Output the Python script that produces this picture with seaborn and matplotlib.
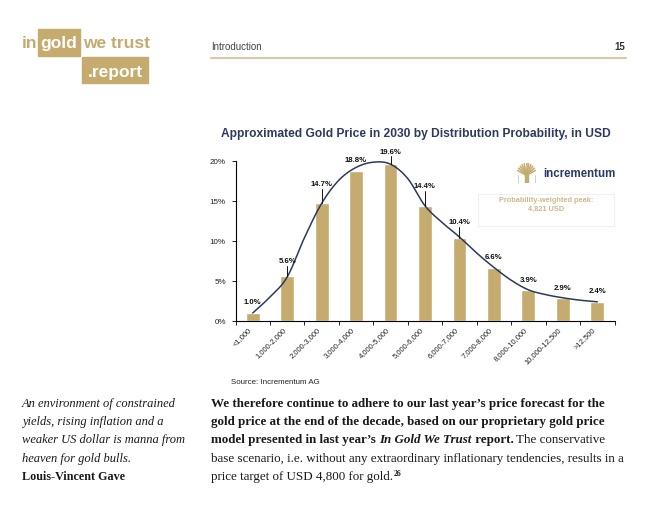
import numpy as np
import pandas as pd
import seaborn as sns
import matplotlib.pyplot as plt
from matplotlib.patches import Rectangle

# data
categories = ["<1,000", "1,000-2,000", "2,000-3,000", "3,000-4,000", "4,000-5,000",
              "5,000-6,000", "6,000-7,000", "7,000-8,000", "8,000-10,000",
              "10,000-12,500", ">12,500"]
probabilities = [1.0, 5.6, 14.7, 18.8, 19.6, 14.4, 10.4, 6.6, 3.9, 2.9, 2.4]
# points (category position, %)
curve_pos = [0, 0.5, 1, 1.5, 2, 2.5, 3, 3.5, 4, 4.5, 5, 5.5, 6, 6.5, 7, 7.5, 8, 8.5, 9, 9.5, 10]
curve_vals = [1.0, 3.0, 5.5, 10.4, 14.7, 17.6, 19.2, 19.85, 19.6, 17.8, 14.4, 12.3,
              10.5, 8.5, 6.7, 5.1, 3.9, 3.3, 2.9, 2.6, 2.4]
y_ticks = [0, 5, 10, 15, 20]

# layout only
label_offsets = [1.25, 1.8, 2.3, 1.2, 1.5, 2.35, 1.85, 1.3, 1.2, 1.2, 1.3]
leader_idx = [1, 2, 4, 5, 6]

GOLD = "#C5AB6E"
NAVY = "#2C3A5E"
SANS = ["Liberation Sans", "DejaVu Sans"]
SERIF = ["Liberation Serif", "DejaVu Serif"]

sns.set_theme(style="white")
plt.rcParams["font.family"] = SANS

W, H = 646, 514
fig = plt.figure(figsize=(W / 100, H / 100), dpi=100)
renderer = fig.canvas.get_renderer()


def fx(px):
    return px / W


def fy(py):
    return 1 - py / H


def text_width(s, **kw):
    t = fig.text(0, 0, s + "|", **kw)
    w1 = t.get_window_extent(renderer).width
    t.remove()
    t = fig.text(0, 0, "|", **kw)
    w2 = t.get_window_extent(renderer).width
    t.remove()
    return w1 - w2


def fit_size(s, target, **kw):
    return 10 * target / text_width(s, fontsize=10, **kw)


def draw_runs(x, base, runs):
    for s, style, size in runs:
        fig.text(fx(x), fy(base), s, fontsize=size, va="baseline", ha="left",
                 color="#1A1A1A", **style)
        x += text_width(s, fontsize=size, **style)
    return x


def smooth(xs, ys, n=24):
    # cardinal spline through the read points, like a smoothed office line
    xs = np.asarray(xs, float)
    ys = np.asarray(ys, float)
    m = np.gradient(ys, xs)
    out_x, out_y = [], []
    for i in range(len(xs) - 1):
        h = xs[i + 1] - xs[i]
        t = np.linspace(0, 1, n, endpoint=False)
        h00 = 2 * t**3 - 3 * t**2 + 1
        h10 = t**3 - 2 * t**2 + t
        h01 = -2 * t**3 + 3 * t**2
        h11 = t**3 - t**2
        out_x.extend(xs[i] + t * h)
        out_y.extend(h00 * ys[i] + h10 * h * m[i] + h01 * ys[i + 1] + h11 * h * m[i + 1])
    out_x.append(xs[-1])
    out_y.append(ys[-1])
    return np.array(out_x), np.array(out_y)


# ---- page header ----
fig.patches.append(Rectangle((fx(38), fy(56)), 42 / W, 27 / H, transform=fig.transFigure,
                             color=GOLD, zorder=0))
fig.patches.append(Rectangle((fx(82), fy(83)), 66 / W, 26 / H, transform=fig.transFigure,
                             color=GOLD, zorder=0))
logo_kw = dict(fontsize=12.5, fontweight="bold", va="baseline")
fig.text(fx(22), fy(48), "in", color=GOLD, ha="left", **logo_kw)
fig.text(fx(59), fy(48), "gold", color="white", ha="center", **logo_kw)
fig.text(fx(83), fy(48), "we trust", color=GOLD, ha="left", **logo_kw)
fig.text(fx(115), fy(77), ".report", color="white", ha="center", **logo_kw)

fig.text(fx(211), fy(50), "Introduction", fontsize=7, color="#444444", va="baseline")
fig.text(fx(625), fy(50), "15", fontsize=7, fontweight="bold", color="#333333",
         ha="right", va="baseline")
fig.add_artist(plt.Line2D([fx(211), fx(626)], [fy(58), fy(58)], color="#D6CAA8", lw=1.5))

# ---- chart ----
title = "Approximated Gold Price in 2030 by Distribution Probability, in USD"
tsize = fit_size(title, 386, fontweight="bold")
fig.text(fx(416), fy(136.5), title, fontsize=tsize, fontweight="bold", color=NAVY,
         ha="center", va="baseline")

ax = fig.add_axes([fx(235.5), fy(321), 379 / W, 160 / H])
ax.patch.set_alpha(0)
df = pd.DataFrame({"range": categories, "prob": probabilities})
sns.barplot(data=df, x="range", y="prob", color=GOLD, saturation=1, width=0.4, ax=ax)

sx, sy = smooth(curve_pos, curve_vals)
ax.plot(sx, sy, color=NAVY, lw=1.1, zorder=3)

for i, v in enumerate(probabilities):
    ly = v + label_offsets[i]
    ax.text(i, ly, f"{v:.1f}%", ha="center", va="center", fontsize=5.6,
            fontweight="bold", color="#111111", clip_on=False, zorder=4)
    if i in leader_idx:
        ax.plot([i, i], [ly - 0.5, v], color="#111111", lw=0.7, clip_on=False, zorder=4)

ax.set_xlim(-0.5, 10.5)
ax.set_ylim(0, 20)
ax.set_xlabel("")
ax.set_ylabel("")
ax.set_yticks(y_ticks)
ax.set_yticklabels([f"{t}%" for t in y_ticks])
ax.set_xticks(range(len(categories)))
ax.set_xticklabels(categories, rotation=45, ha="right")
ax.set_xticks(np.arange(-0.5, len(categories), 1), minor=True)
ax.tick_params(axis="x", which="major", length=0, pad=4, labelsize=5.5, labelcolor="#222222")
ax.tick_params(axis="x", which="minor", length=3, width=0.6, color="black", direction="out",
               bottom=True)
ax.tick_params(axis="y", length=3, width=0.6, color="black", direction="out", left=True,
               pad=4, labelsize=5.8, labelcolor="#222222")
for side in ["top", "right"]:
    ax.spines[side].set_visible(False)
for side in ["left", "bottom"]:
    ax.spines[side].set_color("black")
    ax.spines[side].set_linewidth(0.8)

# incrementum logo
iax = fig.add_axes([fx(517), fy(183), 19 / W, 20 / H])
iax.set_xlim(0, 1)
iax.set_ylim(0, 1)
iax.axis("off")
for a in np.linspace(25, 155, 11):
    r = np.radians(a)
    iax.plot([0.5, 0.5 + 0.55 * np.cos(r)], [0.38, 0.38 + 0.62 * np.sin(r)],
             color=GOLD, lw=1.1, solid_capstyle="butt")
iax.add_patch(Rectangle((0.4, 0.02), 0.2, 0.42, color=GOLD))
iax.plot([0.05, 0.05, 0.95, 0.95], [0.42, 0.02, 0.02, 0.42], color="#BBBBBB", lw=0.5)
fig.text(fx(543), fy(177), "incrementum", fontsize=8.3, fontweight="bold", color="#2B3A67",
         va="baseline")

fig.patches.append(Rectangle((fx(478), fy(226)), 136 / W, 32 / H, transform=fig.transFigure,
                             fill=False, edgecolor="#F0F0F0", lw=0.8))
fig.text(fx(546), fy(205), "Probability-weighted peak:\n4,821 USD", fontsize=5.3,
         fontweight="bold", color="#CDB98A", ha="center", va="center", linespacing=1.2)

fig.text(fx(231.5), fy(382.5), "Source: Incrementum AG", fontsize=5.7, color="#222222",
         va="center")

# ---- body text ----
bases = [406.7, 425, 443.3, 461.6, 480]
ital = dict(family=SERIF, style="italic")
bold = dict(family=SERIF, fontweight="bold")
boldit = dict(family=SERIF, fontweight="bold", style="italic")
reg = dict(family=SERIF)

ls = fit_size("An environment of constrained", 155, **ital)
left_lines = ["An environment of constrained", "yields, rising inflation and a",
              "weaker US dollar is manna from", "heaven for gold bulls."]
for b, s in zip(bases, left_lines):
    draw_runs(22, b, [(s, ital, ls)])
draw_runs(22, bases[4], [("Louis-Vincent Gave", bold, ls * 0.97)])

line1 = "We therefore continue to adhere to our last year\u2019s price forecast for the"
line4 = "base scenario, i.e. without any extraordinary inflationary tendencies, results in a"
# one body size, between what the bold and the regular lines need
bs = 0.5 * (fit_size(line1, 412, **bold) + fit_size(line4, 398, **reg))
draw_runs(211, bases[0], [(line1, bold, bs)])
draw_runs(211, bases[1], [("gold price at the end of the decade, based on our proprietary gold price", bold, bs)])
draw_runs(211, bases[2], [("model presented in last year\u2019s ", bold, bs),
                          ("In Gold We Trust", boldit, bs),
                          (" report.", bold, bs), (" The conservative", reg, bs)])
draw_runs(211, bases[3], [(line4, reg, bs)])
xe = draw_runs(211, bases[4], [("price target of USD 4,800 for gold.", reg, bs)])
fig.text(fx(xe + 0.5), fy(bases[4] - 4), "26", fontsize=bs * 0.6, fontweight="bold",
         family=SERIF, color="#1A1A1A", va="baseline")

fig.savefig("out.png", dpi=100)
